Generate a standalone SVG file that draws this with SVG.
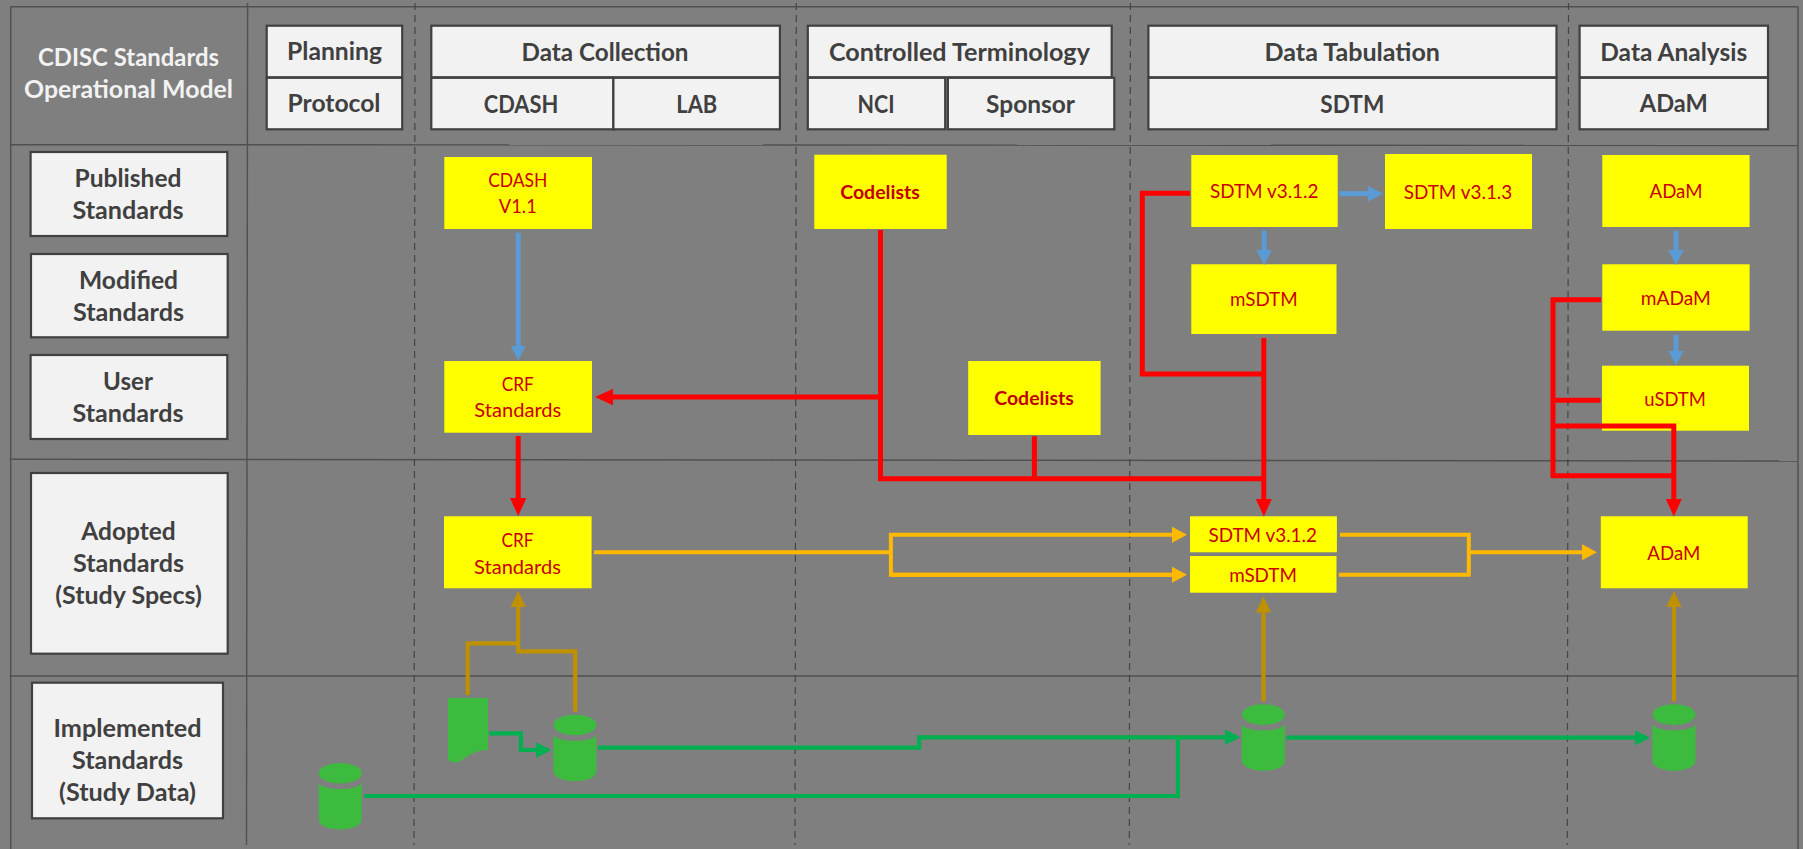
<svg xmlns="http://www.w3.org/2000/svg" width="1803" height="849" viewBox="0 0 1803 849">
<style>
text{font-family:"Lato","Noto Sans","Liberation Sans",sans-serif;text-anchor:middle}
.hd{fill:#404040;font-size:24px;font-weight:700}
.tt{fill:#f2f2f2;font-size:24px;font-weight:700}
.y{fill:#c80000;font-size:19.5px}
.yb{fill:#c00000;font-size:19.5px;font-weight:700}
.box{fill:#f2f2f2;stroke:#404040;stroke-width:2.2}
.ybox{fill:#ffff00}
.grid{stroke:#505050;stroke-width:1.4;fill:none}
.dash{stroke:#454545;stroke-width:1.2;stroke-dasharray:7 5;fill:none}
.c{fill:none;stroke-linejoin:miter}
.blue{stroke:#5b9bd5;stroke-width:5}
.red{stroke:#ff0000;stroke-width:5}
.org{stroke:#ffb900;stroke-width:4}
.gold{stroke:#bf9000;stroke-width:4.2}
.grn{stroke:#00b050;stroke-width:4.2}
.dat{fill:#3dbb3f}
</style>
<defs>
<marker id="ab" markerUnits="userSpaceOnUse" markerWidth="16" markerHeight="16" refX="1" refY="8" orient="auto"><path d="M0,0.3L15,8L0,15.7z" fill="#5b9bd5"/></marker>
<marker id="ar" markerUnits="userSpaceOnUse" markerWidth="19" markerHeight="17" refX="1" refY="8.5" orient="auto"><path d="M0,0.3L18,8.5L0,16.7z" fill="#ff0000"/></marker>
<marker id="ao" markerUnits="userSpaceOnUse" markerWidth="16" markerHeight="17" refX="1" refY="8.5" orient="auto"><path d="M0,0.5L15,8.5L0,16.5z" fill="#ffb900"/></marker>
<marker id="ag" markerUnits="userSpaceOnUse" markerWidth="17" markerHeight="16" refX="1" refY="8" orient="auto"><path d="M0,0.3L16,8L0,15.7z" fill="#bf9000"/></marker>
<marker id="an" markerUnits="userSpaceOnUse" markerWidth="16" markerHeight="16" refX="1" refY="8" orient="auto"><path d="M0,0.3L15.5,8L0,15.7z" fill="#00b050"/></marker>
<g id="cyl"><path class="dat" d="M0,20C3,28 40,28 43,20V56C43,70 0,70 0,56z"/><ellipse class="dat" cx="21.5" cy="10.3" rx="21.5" ry="10.3"/></g>
</defs>
<rect width="1803" height="849" fill="#7f7f7f"/>
<g id="grid">
<path class="grid" d="M10.7,849V6.7H1798V849"/>
<path class="grid" d="M247.6,3L246.5,845"/>
<path class="grid" d="M10.7,144.7L1798,145.5"/>
<path class="grid" d="M9.6,459.3L1798,461"/>
<path class="grid" d="M9.6,676H1798"/>
<path class="dash" d="M415,3L414,845"/>
<path class="dash" d="M796.3,3L795,845"/>
<path class="dash" d="M1130.4,3L1129.3,845"/>
<path class="dash" d="M1568.5,3L1567.3,845"/>
</g>
<g id="title"><text class="tt" x="128.5" y="66" textLength="181" lengthAdjust="spacingAndGlyphs">CDISC Standards</text><text class="tt" x="128.5" y="98" textLength="209" lengthAdjust="spacingAndGlyphs">Operational Model</text></g>
<g id="h-planning"><rect class="box" x="266.7" y="25.7" width="135.5" height="51.6"/><text class="hd" x="334.5" y="60" textLength="95" lengthAdjust="spacingAndGlyphs">Planning</text></g>
<g id="h-protocol"><rect class="box" x="266.7" y="77.8" width="135.5" height="51.5"/><text class="hd" x="334" y="112" textLength="93" lengthAdjust="spacingAndGlyphs">Protocol</text></g>
<g id="h-collection"><rect class="box" x="431.3" y="25.7" width="348.6" height="51.6"/><text class="hd" x="605" y="61" textLength="167" lengthAdjust="spacingAndGlyphs">Data Collection</text></g>
<g id="h-cdash"><rect class="box" x="431.3" y="77.8" width="182.1" height="51.5"/><text class="hd" x="521" y="113" textLength="74.6" lengthAdjust="spacingAndGlyphs">CDASH</text></g>
<g id="h-lab"><rect class="box" x="613.4" y="77.8" width="166.5" height="51.5"/><text class="hd" x="696.8" y="113" textLength="41" lengthAdjust="spacingAndGlyphs">LAB</text></g>
<g id="h-terminology"><rect class="box" x="807.8" y="25.7" width="303.9" height="51.6"/><text class="hd" x="959.4" y="61" textLength="261" lengthAdjust="spacingAndGlyphs">Controlled Terminology</text></g>
<g id="h-nci"><rect class="box" x="807.8" y="77.8" width="137.4" height="51.5"/><text class="hd" x="876" y="113" textLength="37" lengthAdjust="spacingAndGlyphs">NCI</text></g>
<g id="h-sponsor"><rect class="box" x="947.9" y="77.8" width="166.4" height="51.5"/><text class="hd" x="1030.5" y="113" textLength="88.8" lengthAdjust="spacingAndGlyphs">Sponsor</text></g>
<g id="h-tabulation"><rect class="box" x="1148.4" y="25.7" width="408.1" height="51.6"/><text class="hd" x="1352.3" y="61" textLength="175.4" lengthAdjust="spacingAndGlyphs">Data Tabulation</text></g>
<g id="h-sdtm"><rect class="box" x="1148.4" y="77.8" width="408.1" height="51.5"/><text class="hd" x="1352.3" y="113" textLength="64" lengthAdjust="spacingAndGlyphs">SDTM</text></g>
<g id="h-analysis"><rect class="box" x="1579.6" y="25.7" width="188.4" height="51.6"/><text class="hd" x="1673.8" y="61" textLength="147" lengthAdjust="spacingAndGlyphs">Data Analysis</text></g>
<g id="h-adam"><rect class="box" x="1579.6" y="77.8" width="188.4" height="51.5"/><text class="hd" x="1673.8" y="112" textLength="68" lengthAdjust="spacingAndGlyphs">ADaM</text></g>
<g id="r-published"><rect class="box" x="30.6" y="152" width="196.7" height="84"/><text class="hd" x="128" y="187" textLength="106.8" lengthAdjust="spacingAndGlyphs">Published</text><text class="hd" x="128" y="219.3" textLength="111" lengthAdjust="spacingAndGlyphs">Standards</text></g>
<g id="r-modified"><rect class="box" x="31" y="254" width="196.7" height="83.3"/><text class="hd" x="128.5" y="288.7" textLength="99" lengthAdjust="spacingAndGlyphs">Modified</text><text class="hd" x="128.5" y="320.7" textLength="111" lengthAdjust="spacingAndGlyphs">Standards</text></g>
<g id="r-user"><rect class="box" x="30.6" y="355" width="196.7" height="84"/><text class="hd" x="128" y="389.7" textLength="49.8" lengthAdjust="spacingAndGlyphs">User</text><text class="hd" x="128" y="421.7" textLength="111" lengthAdjust="spacingAndGlyphs">Standards</text></g>
<g id="r-adopted"><rect class="box" x="31" y="473" width="196.7" height="180.7"/><text class="hd" x="128.5" y="539.7" textLength="94.5" lengthAdjust="spacingAndGlyphs">Adopted</text><text class="hd" x="128.5" y="571.7" textLength="111" lengthAdjust="spacingAndGlyphs">Standards</text><text class="hd" x="128.5" y="603.5" textLength="146.6" lengthAdjust="spacingAndGlyphs">(Study Specs)</text></g>
<g id="r-implemented"><rect class="box" x="32" y="682.7" width="191" height="135.6"/><text class="hd" x="127.5" y="736.7" textLength="148" lengthAdjust="spacingAndGlyphs">Implemented</text><text class="hd" x="127.5" y="768.7" textLength="111" lengthAdjust="spacingAndGlyphs">Standards</text><text class="hd" x="127.5" y="800.7" textLength="137" lengthAdjust="spacingAndGlyphs">(Study Data)</text></g>
<g id="n-cdash"><rect class="ybox" x="444.3" y="157" width="147.7" height="72"/><text class="y" x="517.8" y="186.7" textLength="59.3" lengthAdjust="spacingAndGlyphs">CDASH</text><text class="y" x="517.8" y="212.7" textLength="38" lengthAdjust="spacingAndGlyphs">V1.1</text></g>
<g id="n-codelists1"><rect class="ybox" x="814.3" y="154.7" width="132.4" height="74.3"/><text class="yb" x="880" y="199" textLength="79.6" lengthAdjust="spacingAndGlyphs">Codelists</text></g>
<g id="n-sdtm312"><rect class="ybox" x="1191.3" y="155" width="146.4" height="72"/><text class="y" x="1264.2" y="198.3" textLength="108.5" lengthAdjust="spacingAndGlyphs">SDTM v3.1.2</text></g>
<g id="n-sdtm313"><rect class="ybox" x="1385" y="154" width="147" height="75"/><text class="y" x="1458" y="199.3" textLength="108.5" lengthAdjust="spacingAndGlyphs">SDTM v3.1.3</text></g>
<g id="n-adam"><rect class="ybox" x="1602.3" y="155" width="147.3" height="72"/><text class="y" x="1676" y="198" textLength="53" lengthAdjust="spacingAndGlyphs">ADaM</text></g>
<g id="n-msdtm"><rect class="ybox" x="1191.3" y="264.3" width="145.2" height="69.7"/><text class="y" x="1263.8" y="306.3" textLength="67.7" lengthAdjust="spacingAndGlyphs">mSDTM</text></g>
<g id="n-madam"><rect class="ybox" x="1602.3" y="264.3" width="147.3" height="66.4"/><text class="y" x="1675.8" y="305" textLength="70" lengthAdjust="spacingAndGlyphs">mADaM</text></g>
<g id="n-usdtm"><rect class="ybox" x="1602" y="365.7" width="147" height="65"/><text class="y" x="1675" y="406.3" textLength="61.5" lengthAdjust="spacingAndGlyphs">uSDTM</text></g>
<g id="n-crf1"><rect class="ybox" x="444.3" y="361" width="147.7" height="71.7"/><text class="y" x="517.8" y="391.3" textLength="32" lengthAdjust="spacingAndGlyphs">CRF</text><text class="y" x="517.8" y="417.3" textLength="87" lengthAdjust="spacingAndGlyphs">Standards</text></g>
<g id="n-codelists2"><rect class="ybox" x="968.2" y="361" width="132.4" height="74"/><text class="yb" x="1034" y="405" textLength="79.6" lengthAdjust="spacingAndGlyphs">Codelists</text></g>
<g id="n-crf2"><rect class="ybox" x="444" y="516.3" width="147.6" height="72"/><text class="y" x="517.5" y="547.3" textLength="32" lengthAdjust="spacingAndGlyphs">CRF</text><text class="y" x="517.5" y="573.5" textLength="87" lengthAdjust="spacingAndGlyphs">Standards</text></g>
<g id="n-sdtm312b"><rect class="ybox" x="1190" y="516.3" width="146.9" height="36"/><text class="y" x="1262.7" y="542" textLength="108.5" lengthAdjust="spacingAndGlyphs">SDTM v3.1.2</text></g>
<g id="n-msdtmb"><rect class="ybox" x="1190" y="556" width="146.5" height="36.7"/><text class="y" x="1263" y="582" textLength="67.7" lengthAdjust="spacingAndGlyphs">mSDTM</text></g>
<g id="n-adamb"><rect class="ybox" x="1600.8" y="516.3" width="146.9" height="72"/><text class="y" x="1673.8" y="559.7" textLength="53" lengthAdjust="spacingAndGlyphs">ADaM</text></g>
<g id="d-doc"><path class="dat" d="M448,698H488V750C476,750 468,756 462,760C458,763.5 452,763 448,760z"/></g>
<g id="d-cyl1"><use href="#cyl" x="553.5" y="714.7"/></g>
<g id="d-cyl2"><use href="#cyl" x="318.8" y="763"/></g>
<g id="d-cyl3"><use href="#cyl" x="1241.9" y="704.3"/></g>
<g id="d-cyl4"><use href="#cyl" x="1652.5" y="704.3"/></g>
<g id="connectors">
<path class="c blue" d="M518.2,232.7V346.5" marker-end="url(#ab)"/>
<path class="c blue" d="M1264.2,230.7V251" marker-end="url(#ab)"/>
<path class="c blue" d="M1339.5,193.7H1369" marker-end="url(#ab)"/>
<path class="c blue" d="M1676,230.7V251" marker-end="url(#ab)"/>
<path class="c blue" d="M1676,334.7V351.5" marker-end="url(#ab)"/>
<path class="c red" d="M880.5,230V478.7H1263.8"/>
<path class="c red" d="M880.5,397H612" marker-end="url(#ar)"/>
<path class="c red" d="M1034.4,436.3V478.7"/>
<path class="c red" d="M1190,193.3H1142.3V374H1263.8"/>
<path class="c red" d="M1263.8,338V499.5" marker-end="url(#ar)"/>
<path class="c red" d="M518.2,436V499" marker-end="url(#ar)"/>
<path class="c red" d="M1601,299.7H1553V475.7H1673.8"/>
<path class="c red" d="M1600.5,400.3H1553"/>
<path class="c red" d="M1553,426H1673.8V499.5" marker-end="url(#ar)"/>
<path class="c org" d="M594,552.3H890.9"/>
<path class="c org" d="M1172.5,574.7H890.9V534.7H1173" marker-end="url(#ao)"/>
<path class="c org" d="M890.9,574.7H1173" marker-end="url(#ao)"/>
<path class="c org" d="M1340,534.7H1468.8V574.7H1338.8"/>
<path class="c org" d="M1468.8,552.3H1583" marker-end="url(#ao)"/>
<path class="c gold" d="M467.7,695V643.3H518.2"/>
<path class="c gold" d="M575.2,711.7V651.3H518.2V606" marker-end="url(#ag)"/>
<path class="c gold" d="M1263.5,701.3V611.5" marker-end="url(#ag)"/>
<path class="c gold" d="M1674,701.3V606" marker-end="url(#ag)"/>
<path class="c grn" d="M489,733.3H520.9V750H537" marker-end="url(#an)"/>
<path class="c grn" d="M598,747.7H919.2V737.3H1226" marker-end="url(#an)"/>
<path class="c grn" d="M364.3,796H1177.9V737.3"/>
<path class="c grn" d="M1286.5,737.7H1635.5" marker-end="url(#an)"/>
</g>
</svg>
